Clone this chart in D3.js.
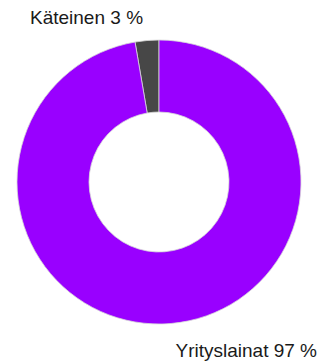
<!DOCTYPE html>
<html>
<head>
<meta charset="utf-8">
<script src="https://cdn.jsdelivr.net/npm/d3@7"></script>
<style>
  body { margin: 0; background: #fff; }
  text { font-family: "Liberation Sans", Arial, sans-serif; }
</style>
</head>
<body>
<svg id="chart"></svg>
<script>
"use strict";

// Chart data
const categories = ["Käteinen", "Yrityslainat"];
const values = [2.7, 97.3];
const labels = ["Käteinen 3 %", "Yrityslainat 97 %"];
const colors = ["#474747", "#9900ff"];

const width = 322, height = 361;
const cx = 159, cy = 182;
const outer_radius = 142, inner_radius = 70;

const svg = d3.select("#chart")
    .attr("width", width)
    .attr("height", height);

// Slices go counter-clockwise from 12 o'clock, so start with the small one
const pie = d3.pie()
    .sort(null)
    .startAngle(0)
    .endAngle(-2 * Math.PI)
    .value(function(d) { return d; });

const arc = d3.arc()
    .innerRadius(inner_radius)
    .outerRadius(outer_radius);

const g = svg.append("g")
    .attr("transform", "translate(" + cx + "," + cy + ")");

g.selectAll("path")
    .data(pie(values))
    .enter()
    .append("path")
    .attr("d", arc)
    .attr("fill", function(d, i) { return colors[i]; })
    .attr("stroke", "#d8d8d8")
    .attr("stroke-width", 0.8);

// Labels
svg.append("text")
    .attr("x", 30)
    .attr("y", 24)
    .attr("font-size", 19)
    .attr("fill", "#1a1a1a")
    .text(labels[0]);

svg.append("text")
    .attr("x", 317)
    .attr("y", 357)
    .attr("text-anchor", "end")
    .attr("font-size", 19)
    .attr("fill", "#1a1a1a")
    .text(labels[1]);
</script>
</body>
</html>
